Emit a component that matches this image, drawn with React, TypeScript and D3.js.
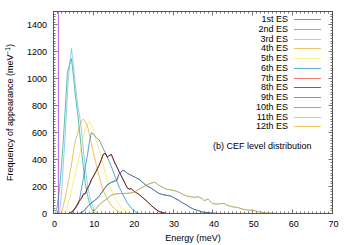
import React from "react";
import * as d3 from "d3";

const seriesNames = ["1st ES","2nd ES","3rd ES","4th ES","5th ES","6th ES","7th ES","8th ES","9th ES","10th ES","11th ES","12th ES"];
const seriesColors = ["#9400d3","#009e73","#56b4e9","#e69f00","#f0e442","#0072b2","#e51e10","#000000","#9400d3","#009e73","#56b4e9","#e69f00"];

const es1: [number, number][] = [[1.22,0],[1.22,9000]];
const es2: [number, number][] = [[0.5,0],[1,60],[1.5,180],[2,350],[2.5,560],[3,800],[3.5,1050],[4,1100],[4.5,1150],[5,1020],[5.5,870],[6,760],[6.5,620],[7,480],[7.5,340],[8,220],[8.5,140],[9,80],[9.5,40],[10,15],[10.5,0]];
const es3: [number, number][] = [[1.5,0],[2,150],[2.5,380],[3,620],[3.5,900],[4,1100],[4.5,1225],[5,1100],[5.5,950],[6,820],[6.5,730],[7,620],[7.5,470],[8,330],[8.5,220],[9,140],[9.5,80],[10,40],[10.5,15],[11,0]];
const es4: [number, number][] = [[2,0],[2.5,60],[3.5,200],[4.5,360],[5,460],[5.5,540],[6.5,640],[7,690],[7.5,700],[8,680],[8.5,650],[9,590],[9.5,520],[10,450],[10.5,390],[11,330],[11.5,270],[12,220],[12.5,170],[13.5,105],[14.5,60],[15.5,30],[16.5,12],[17.5,0]];
const es5: [number, number][] = [[3,0],[3.5,50],[4.5,170],[5.5,300],[6.5,430],[7.5,570],[8,630],[8.5,660],[9,685],[9.5,660],[10,620],[10.5,560],[11.5,470],[12,420],[12.5,360],[13,300],[13.5,240],[14.5,170],[15.5,115],[16.5,65],[17.5,30],[18.5,8],[19.5,0]];
const es6: [number, number][] = [[4.5,0],[5.5,40],[6.5,100],[7.5,260],[8,350],[8.5,430],[9,530],[9.5,600],[10,590],[10.5,570],[11.5,545],[12.5,480],[13.5,420],[14.5,350],[15.5,270],[16.5,195],[17.5,135],[18.5,80],[19.5,40],[20.5,15],[21.5,0]];
const es7: [number, number][] = [[4,0],[5,25],[6,70],[6.5,100],[7,115],[7.5,150],[8,145],[8.5,190],[9,215],[9.5,250],[10.5,305],[11.5,365],[12,400],[12.5,440],[13,448],[13.5,420],[14,432],[14.5,440],[15,400],[15.5,365],[16,340],[16.5,305],[17,280],[17.5,250],[18,220],[18.5,190],[19,182],[19.5,185],[20,172],[20.5,160],[21.5,140],[22.5,115],[23.5,90],[24.5,60],[25.5,35],[26.5,15],[27.5,6],[28.5,0]];
const es8: [number, number][] = [[4,0],[5,20],[6,60],[6.5,90],[7,110],[7.5,140],[8,150],[8.5,185],[9,210],[9.5,250],[10.5,300],[11.5,360],[12,400],[12.5,440],[13,445],[13.5,418],[14,430],[14.5,438],[15,405],[15.5,370],[16,340],[16.5,310],[17,280],[17.5,250],[18,220],[18.5,190],[19,180],[19.5,185],[20,170],[20.5,160],[21.5,140],[22.5,115],[23.5,90],[24.5,60],[25.5,35],[26.5,15],[27.5,5],[28.5,0]];
const es9: [number, number][] = [[6.5,0],[7.5,15],[8.5,50],[9.5,80],[10.5,100],[11.5,130],[12.5,175],[13.5,215],[14.5,232],[15.4,242],[15.9,248],[16.4,292],[17.4,322],[17.9,316],[18.4,300],[19.4,285],[20.4,270],[21.4,255],[22.4,230],[23.4,205],[24.4,190],[25.4,170],[26.4,150],[27.4,140],[28.4,135],[29.4,130],[30.3,115],[31.3,100],[32.3,80],[33.3,65],[34.3,45],[35.3,30],[36.3,22],[37.3,12],[38.3,8],[39.3,5],[40.3,2],[41.3,0]];
const es10: [number, number][] = [[6.5,0],[7.5,15],[8.5,50],[9.5,80],[10.5,100],[11.5,130],[12.5,170],[13.5,210],[14.5,230],[15.4,240],[15.9,245],[16.4,290],[17.4,320],[17.9,315],[18.4,300],[19.4,285],[20.4,270],[21.4,255],[22.4,230],[23.4,205],[24.4,190],[25.4,170],[26.4,150],[27.4,140],[28.4,135],[29.4,130],[30.3,115],[31.3,100],[32.3,80],[33.3,65],[34.3,45],[35.3,30],[36.3,22],[37.3,12],[38.3,8],[39.3,5],[40.3,2],[41.3,0]];
const es11: [number, number][] = [[9.5,0],[10.5,30],[11.5,65],[12.5,90],[13.5,110],[14.5,135],[15.4,145],[16.4,148],[17.4,148],[18.4,150],[19.4,152],[20.4,160],[21.4,180],[22.4,195],[23.4,212],[24.4,225],[25.4,232],[26.4,210],[27.4,195],[28.4,180],[29.4,175],[30.3,170],[31.3,160],[32.3,145],[33.3,130],[34.3,125],[35.3,120],[36.3,125],[37.3,110],[37.8,95],[38.8,108],[39.8,75],[40.8,70],[41.8,72],[42.8,75],[43.8,58],[44.8,50],[46.2,45],[47.2,35],[48.2,28],[49.2,25],[50.2,22],[51.2,15],[52.2,10],[53.2,5],[54.2,3],[56.2,0],[60,0]];
const es12: [number, number][] = [[9.5,0],[10.5,30],[11.5,65],[12.5,90],[13.5,110],[14.5,135],[15.4,145],[16.4,148],[17.4,148],[18.4,150],[19.4,152],[20.4,160],[21.4,180],[22.4,195],[23.4,212],[24.4,225],[25.4,232],[26.4,210],[27.4,195],[28.4,180],[29.4,175],[30.3,170],[31.3,160],[32.3,145],[33.3,130],[34.3,125],[35.3,120],[36.3,125],[37.3,110],[37.8,95],[38.8,108],[39.8,75],[40.8,70],[41.8,72],[42.8,75],[43.8,58],[44.8,50],[46.2,45],[47.2,35],[48.2,28],[49.2,25],[50.2,22],[51.2,15],[52.2,10],[53.2,5],[54.2,3],[56.2,0],[60,0]];

const allSeries = [es1, es2, es3, es4, es5, es6, es7, es8, es9, es10, es11, es12];

const xTickValues = [0, 10, 20, 30, 40, 50, 60, 70];
const yTickValues = [0, 200, 400, 600, 800, 1000, 1200, 1400];

const W = 350, H = 245;
const left = 53.5, right = 332.5, top = 11.5, bottom = 213.5;
const FONT = "'Liberation Sans', Arial, Helvetica, sans-serif";
const AXIS = "#555";

export default function App() {
  const x = d3.scaleLinear().domain([0, 70]).range([left, right]);
  const y = d3.scaleLinear().domain([0, 1500]).range([bottom, top]);
  const line = d3.line<[number, number]>().x(d => x(d[0])).y(d => y(d[1]));

  const xMinor = d3.range(0, 71, 1).filter(v => v % 10 !== 0);
  const yMinor = d3.range(0, 1501, 20).filter(v => v % 200 !== 0);
  const majLen = 4, minLen = 2;
  const px = (v: number) => Math.round(v - 0.5) + 0.5;

  return (
    <svg width={W} height={H} style={{ position: "absolute", left: 0, top: 0, background: "#fff" }} fontFamily={FONT}>
      <defs>
        <clipPath id="plotclip">
          <rect x={left} y={top} width={right - left} height={bottom - top} />
        </clipPath>
      </defs>
      <rect x={0} y={0} width={W} height={H} fill="#fff" />
      <g stroke={AXIS} strokeWidth={0.8}>
        {xTickValues.map(v => (
          <g key={"xt" + v}>
            <line x1={px(x(v))} x2={px(x(v))} y1={bottom} y2={bottom - majLen} />
            <line x1={px(x(v))} x2={px(x(v))} y1={top} y2={top + majLen} />
          </g>
        ))}
        {xMinor.map(v => (
          <g key={"xm" + v}>
            <line x1={px(x(v))} x2={px(x(v))} y1={bottom} y2={bottom - minLen} />
            <line x1={px(x(v))} x2={px(x(v))} y1={top} y2={top + minLen} />
          </g>
        ))}
        {yTickValues.map(v => (
          <g key={"yt" + v}>
            <line x1={left} x2={left + majLen} y1={px(y(v))} y2={px(y(v))} />
            <line x1={right} x2={right - majLen} y1={px(y(v))} y2={px(y(v))} />
          </g>
        ))}
        {yMinor.map(v => (
          <g key={"ym" + v}>
            <line x1={left} x2={left + minLen} y1={px(y(v))} y2={px(y(v))} />
            <line x1={right} x2={right - minLen} y1={px(y(v))} y2={px(y(v))} />
          </g>
        ))}
      </g>
      <g clipPath="url(#plotclip)" fill="none" strokeWidth={0.65}>
        {allSeries.map((s, i) => (
          <path key={"s" + i} d={line(s) || ""} stroke={seriesColors[i]} strokeLinejoin="round" />
        ))}
      </g>
      <rect x={left} y={top} width={right - left} height={bottom - top} fill="none" stroke={AXIS} strokeWidth={1} />
      <g fontSize={9} fill="#000">
        {xTickValues.map(v => (
          <text key={"xl" + v} x={x(v) + 1} y={227} textAnchor="middle">{v}</text>
        ))}
        {yTickValues.map(v => (
          <text key={"yl" + v} x={47} y={y(v) + 3} textAnchor="end">{v}</text>
        ))}
      </g>
      <text x={(left + right) / 2} y={241} textAnchor="middle" fontSize={9}>Energy (meV)</text>
      <text transform={`translate(13,${(top + bottom) / 2}) rotate(-90)`} textAnchor="middle" fontSize={9}>
        Frequency of appearance (meV<tspan dy={-3} fontSize={6.5}>−1</tspan><tspan dy={3}>)</tspan>
      </text>
      <g fontSize={9}>
        {seriesNames.map((n, i) => {
          const cy = 19.3 + i * 9.72;
          return (
            <g key={"lg" + i}>
              <text x={288} y={cy + 3} textAnchor="end">{n}</text>
              <line x1={294} x2={321} y1={Math.round(cy) + 0.5} y2={Math.round(cy) + 0.5} stroke={seriesColors[i]} strokeWidth={0.6} />
            </g>
          );
        })}
      </g>
      <text x={213} y={149} fontSize={9}>(b) CEF level distribution</text>
    </svg>
  );
}
